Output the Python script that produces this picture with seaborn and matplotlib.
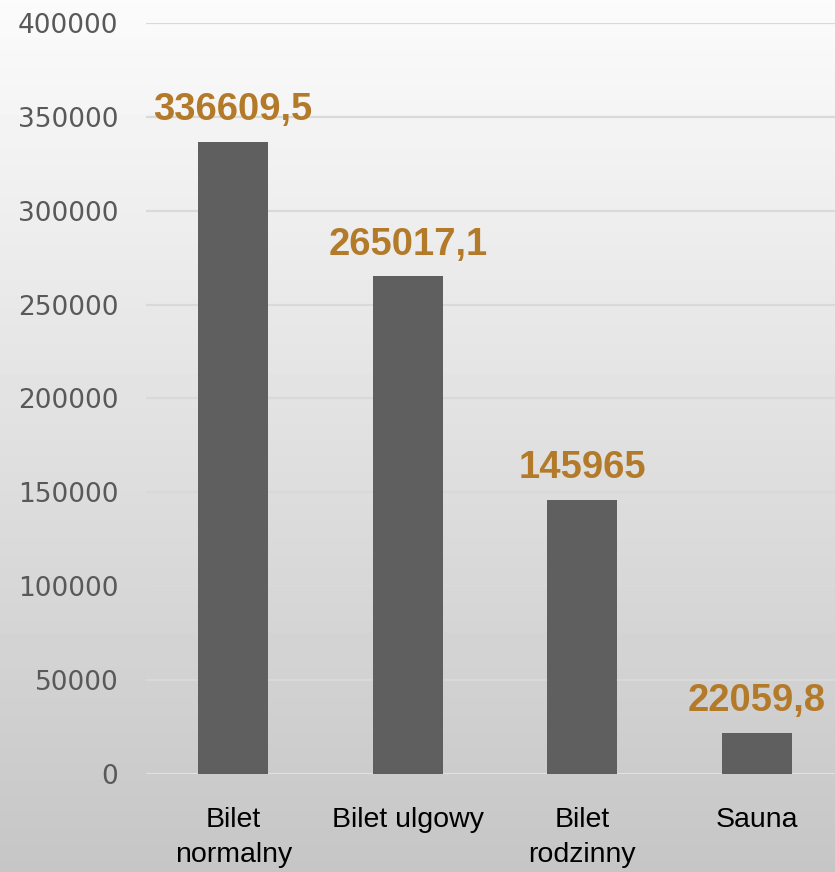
import matplotlib
matplotlib.use("Agg")
import matplotlib.pyplot as plt
import numpy as np
import pandas as pd
import seaborn as sns

# chart data
categories = ["Bilet\nnormalny", "Bilet ulgowy", "Bilet\nrodzinny", "Sauna"]
values = [336609.5, 265017.1, 145965, 22059.8]
value_labels = ["336609,5", "265017,1", "145965", "22059,8"]
y_ticks = [0, 50000, 100000, 150000, 200000, 250000, 300000, 350000, 400000]

df = pd.DataFrame({"kategoria": categories, "wartosc": values})

sns.set_theme(style="white")
plt.rcParams["font.family"] = ["Liberation Sans", "DejaVu Sans"]

fig = plt.figure(figsize=(8.35, 8.72), dpi=100)

# grey gradient background (light at top, darker at bottom)
bg = fig.add_axes([0, 0, 1, 1], zorder=0)
grad = np.linspace(0.985, 0.775, 256).reshape(-1, 1)
bg.imshow(grad, aspect="auto", cmap="gray", vmin=0, vmax=1,
          extent=[0, 1, 0, 1], origin="upper")
bg.set_axis_off()

ax = fig.add_axes([146 / 835, 98 / 872, 698 / 835, 751 / 872], zorder=1)
ax.patch.set_alpha(0)

sns.barplot(data=df, x="kategoria", y="wartosc", color="#5f5f5f",
            saturation=1, width=0.4, linewidth=0, ax=ax, zorder=3)

for i, (v, lab) in enumerate(zip(values, value_labels)):
    ax.annotate(lab, (i, v), xytext=(0, 10), textcoords="offset points",
                ha="center", va="bottom", fontsize=27.5, fontweight="bold",
                color="#b37a2a", zorder=4)

ax.set_ylim(0, 400000)
ax.set_yticks(y_ticks)
ax.set_yticklabels([str(t) for t in y_ticks], fontsize=19, color="#595959",
                   family=["DejaVu Sans"])
ax.tick_params(axis="y", length=0, pad=20)
ax.tick_params(axis="x", length=0, pad=24, labelsize=20.5, labelcolor="black")
for lab in ax.get_xticklabels():
    lab.set_linespacing(1.45)

ax.yaxis.grid(True, color="#d9d9d9", linewidth=1.6, zorder=0)
ax.set_axisbelow(True)
ax.set_xlabel("")
ax.set_ylabel("")
for s in ax.spines.values():
    s.set_visible(False)
ax.axhline(0, color="#e2e2e2", linewidth=2, zorder=2)

fig.savefig("out.png", dpi=100)
